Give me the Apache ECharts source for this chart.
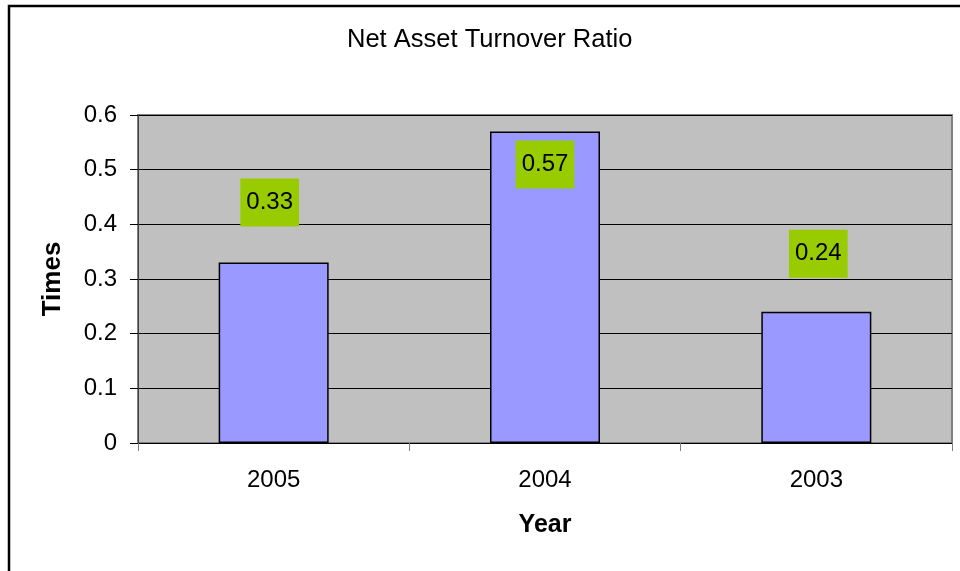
<!DOCTYPE html>
<html>
<head>
<meta charset="utf-8">
<script src="https://cdn.jsdelivr.net/npm/echarts@6/dist/echarts.min.js"></script>
<style>
  html, body { margin: 0; padding: 0; background: #fff; }
  #chart { width: 960px; height: 571px; }
</style>
</head>
<body>
<div id="chart"></div>
<script>
// data
const years = ['2005', '2004', '2003']
const ratios = [0.33, 0.57, 0.24]
const yTicks = { min: 0, max: 0.6, interval: 0.1 }

// where Excel dropped each data label (position, distance, x shift)
const labelPlace = [
  { position: 'top', distance: 36, dx: -4 },
  { position: 'insideTop', distance: 9, dx: 0 },
  { position: 'top', distance: 34, dx: 2 }
]

const font = 'Arial, "Liberation Sans", sans-serif'

const chart = echarts.init(document.getElementById('chart'))

const seriesData = ratios.map((v, i) => ({
  value: v,
  label: {
    position: labelPlace[i].position,
    distance: labelPlace[i].distance,
    offset: [labelPlace[i].dx, 0]
  }
}))

const option = {
  animation: false,
  backgroundColor: '#fff',
  title: {
    text: 'Net Asset Turnover Ratio',
    left: 347,
    top: 27,
    padding: 0,
    textStyle: { fontFamily: font, fontSize: 25.5, fontWeight: 'normal', color: '#000', lineHeight: 26 }
  },
  graphic: [
    {
      type: 'rect',
      shape: { x: 9, y: 6, width: 980, height: 600 },
      style: { fill: 'none', stroke: '#000', lineWidth: 2.5 },
      silent: true
    }
  ],
  grid: {
    left: 138,
    top: 115,
    right: 8,
    bottom: 128,
    show: true,
    backgroundColor: '#C0C0C0',
    borderColor: '#808080',
    borderWidth: 2
  },
  xAxis: {
    type: 'category',
    data: years,
    name: 'Year',
    nameLocation: 'middle',
    nameGap: 70,
    nameTextStyle: { fontFamily: font, fontSize: 25, fontWeight: 'bold', color: '#000' },
    axisLine: { show: true, lineStyle: { color: '#000', width: 1 } },
    axisTick: { show: true, alignWithLabel: false, length: 8, lineStyle: { color: '#808080' } },
    axisLabel: { fontFamily: font, fontSize: 24, color: '#000', margin: 25 },
    splitLine: { show: false }
  },
  yAxis: {
    type: 'value',
    min: yTicks.min,
    max: yTicks.max,
    interval: yTicks.interval,
    name: 'Times',
    nameLocation: 'middle',
    nameGap: 72,
    nameTextStyle: { fontFamily: font, fontSize: 26, fontWeight: 'bold', color: '#000' },
    axisLine: { show: true, lineStyle: { color: '#404040', width: 1 } },
    axisTick: { show: true, length: 8, lineStyle: { color: '#000' } },
    axisLabel: { fontFamily: font, fontSize: 24, color: '#000', margin: 21 },
    splitLine: { show: true, lineStyle: { color: '#000', width: 1 } }
  },
  series: [
    {
      type: 'bar',
      data: seriesData,
      barWidth: 110,
      itemStyle: { color: '#9999FF', borderColor: '#000', borderWidth: 1.5 },
      label: {
        show: true,
        fontFamily: font,
        fontSize: 24,
        lineHeight: 24,
        color: '#000',
        backgroundColor: '#99CC00',
        padding: [12, 6]
      }
    }
  ]
}

chart.setOption(option)
</script>
</body>
</html>
